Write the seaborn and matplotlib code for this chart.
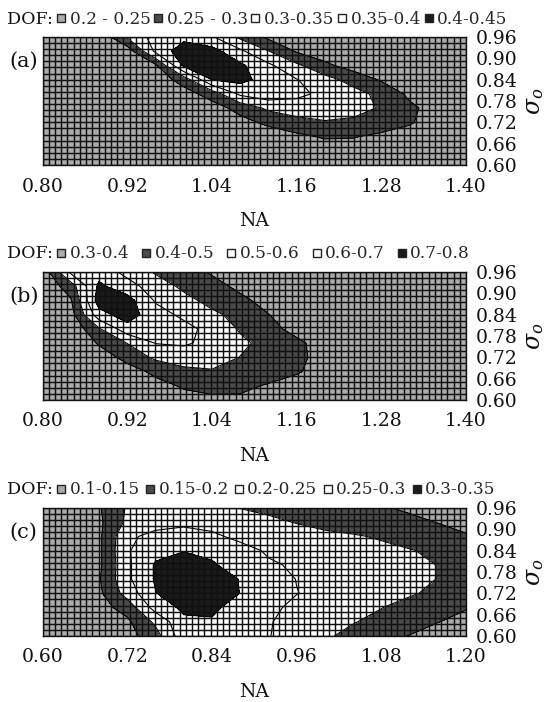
import numpy as np
import matplotlib
matplotlib.use("Agg")
import matplotlib.pyplot as plt
import seaborn as sns
from matplotlib.lines import Line2D

sns.set_theme(style="white")
plt.rcParams["font.family"] = ["DejaVu Serif"]
plt.rcParams["mathtext.fontset"] = "dejavuserif"

# ---------------- data ----------------
sigma_o = [0.60, 0.64, 0.68, 0.72, 0.76, 0.80, 0.84, 0.88, 0.92, 0.96]
na_ab = [0.80, 0.84, 0.88, 0.92, 0.96, 1.00, 1.04, 1.08,
         1.12, 1.16, 1.20, 1.24, 1.28, 1.32, 1.36, 1.40]
na_c = [0.60, 0.64, 0.68, 0.72, 0.76, 0.80, 0.84, 0.88,
        0.92, 0.96, 1.00, 1.04, 1.08, 1.12, 1.16, 1.20]

# rows follow sigma_o (0.60 -> 0.96), columns follow NA
dof_a = [
    [0.20, 0.20, 0.20, 0.20, 0.20, 0.20, 0.20, 0.20, 0.205, 0.21, 0.215, 0.215, 0.21, 0.205, 0.20, 0.20],
    [0.20, 0.20, 0.20, 0.20, 0.20, 0.20, 0.20, 0.20, 0.21, 0.22, 0.225, 0.225, 0.22, 0.21, 0.205, 0.20],
    [0.20, 0.20, 0.20, 0.20, 0.20, 0.20, 0.20, 0.21, 0.225, 0.24, 0.255, 0.253, 0.24, 0.23, 0.215, 0.205],
    [0.20, 0.20, 0.20, 0.20, 0.20, 0.20, 0.21, 0.235, 0.26, 0.28, 0.295, 0.29, 0.275, 0.255, 0.225, 0.21],
    [0.20, 0.20, 0.20, 0.20, 0.20, 0.20, 0.23, 0.265, 0.31, 0.33, 0.335, 0.32, 0.295, 0.26, 0.23, 0.21],
    [0.20, 0.20, 0.20, 0.20, 0.20, 0.23, 0.27, 0.36, 0.38, 0.36, 0.34, 0.32, 0.285, 0.24, 0.22, 0.20],
    [0.20, 0.20, 0.20, 0.20, 0.22, 0.27, 0.40, 0.415, 0.38, 0.352, 0.32, 0.28, 0.245, 0.225, 0.21, 0.20],
    [0.20, 0.20, 0.20, 0.21, 0.24, 0.41, 0.44, 0.41, 0.36, 0.31, 0.26, 0.23, 0.215, 0.205, 0.20, 0.20],
    [0.20, 0.20, 0.205, 0.22, 0.36, 0.43, 0.42, 0.36, 0.302, 0.245, 0.225, 0.21, 0.20, 0.20, 0.20, 0.20],
    [0.20, 0.20, 0.21, 0.305, 0.37, 0.385, 0.355, 0.29, 0.24, 0.22, 0.21, 0.20, 0.20, 0.20, 0.20, 0.20],
]
dof_b = [
    [0.30, 0.30, 0.30, 0.31, 0.34, 0.37, 0.38, 0.38, 0.36, 0.34, 0.33, 0.31, 0.30, 0.30, 0.30, 0.30],
    [0.30, 0.30, 0.30, 0.32, 0.37, 0.41, 0.43, 0.425, 0.39, 0.36, 0.34, 0.32, 0.31, 0.30, 0.30, 0.30],
    [0.30, 0.30, 0.31, 0.36, 0.42, 0.47, 0.49, 0.48, 0.45, 0.41, 0.36, 0.33, 0.31, 0.30, 0.30, 0.30],
    [0.30, 0.30, 0.35, 0.43, 0.52, 0.56, 0.55, 0.498, 0.46, 0.42, 0.37, 0.34, 0.32, 0.31, 0.30, 0.30],
    [0.30, 0.31, 0.41, 0.502, 0.603, 0.61, 0.58, 0.52, 0.47, 0.42, 0.36, 0.33, 0.31, 0.30, 0.30, 0.30],
    [0.30, 0.32, 0.49, 0.66, 0.68, 0.63, 0.57, 0.49, 0.43, 0.37, 0.34, 0.32, 0.31, 0.30, 0.30, 0.30],
    [0.30, 0.36, 0.66, 0.75, 0.64, 0.58, 0.52, 0.47, 0.402, 0.36, 0.33, 0.31, 0.30, 0.30, 0.30, 0.30],
    [0.31, 0.39, 0.75, 0.74, 0.59, 0.53, 0.47, 0.42, 0.37, 0.34, 0.32, 0.31, 0.31, 0.30, 0.30, 0.30],
    [0.32, 0.45, 0.72, 0.64, 0.55, 0.48, 0.43, 0.38, 0.35, 0.33, 0.32, 0.31, 0.31, 0.31, 0.30, 0.30],
    [0.33, 0.62, 0.66, 0.57, 0.49, 0.44, 0.39, 0.36, 0.34, 0.33, 0.32, 0.32, 0.31, 0.31, 0.31, 0.31],
]
dof_c = [
    [0.11, 0.115, 0.12, 0.13, 0.18, 0.28, 0.285, 0.265, 0.252, 0.23, 0.205, 0.19, 0.165, 0.148, 0.135, 0.13],
    [0.11, 0.115, 0.125, 0.14, 0.21, 0.29, 0.295, 0.27, 0.253, 0.235, 0.218, 0.202, 0.19, 0.175, 0.151, 0.14],
    [0.11, 0.12, 0.13, 0.17, 0.27, 0.31, 0.31, 0.28, 0.26, 0.24, 0.225, 0.212, 0.201, 0.185, 0.17, 0.152],
    [0.11, 0.125, 0.14, 0.22, 0.298, 0.33, 0.33, 0.299, 0.272, 0.251, 0.24, 0.232, 0.22, 0.205, 0.19, 0.18],
    [0.11, 0.125, 0.145, 0.24, 0.305, 0.33, 0.325, 0.298, 0.272, 0.249, 0.242, 0.235, 0.225, 0.213, 0.199, 0.185],
    [0.11, 0.125, 0.14, 0.24, 0.305, 0.325, 0.305, 0.28, 0.255, 0.245, 0.238, 0.23, 0.222, 0.212, 0.199, 0.18],
    [0.11, 0.125, 0.14, 0.245, 0.285, 0.298, 0.29, 0.265, 0.245, 0.235, 0.228, 0.22, 0.212, 0.203, 0.19, 0.175],
    [0.11, 0.125, 0.14, 0.24, 0.265, 0.27, 0.258, 0.24, 0.23, 0.22, 0.212, 0.205, 0.195, 0.18, 0.165, 0.152],
    [0.11, 0.12, 0.14, 0.21, 0.23, 0.24, 0.235, 0.225, 0.21, 0.198, 0.185, 0.175, 0.165, 0.158, 0.149, 0.143],
    [0.11, 0.12, 0.145, 0.205, 0.22, 0.225, 0.215, 0.199, 0.19, 0.18, 0.17, 0.16, 0.153, 0.145, 0.14, 0.135],
]

levels_a = [0.20, 0.25, 0.30, 0.35, 0.40, 0.45]
levels_b = [0.30, 0.40, 0.50, 0.60, 0.70, 0.80]
levels_c = [0.10, 0.15, 0.20, 0.25, 0.30, 0.35]
labels_a = ["0.2 - 0.25", "0.25 - 0.3", "0.3-0.35", "0.35-0.4", "0.4-0.45"]
labels_b = ["0.3-0.4", "0.4-0.5", "0.5-0.6", "0.6-0.7", "0.7-0.8"]
labels_c = ["0.1-0.15", "0.15-0.2", "0.2-0.25", "0.25-0.3", "0.3-0.35"]
xticks_ab = [0.80, 0.92, 1.04, 1.16, 1.28, 1.40]
xticks_c = [0.60, 0.72, 0.84, 0.96, 1.08, 1.20]
yticks = [0.60, 0.66, 0.72, 0.78, 0.84, 0.90, 0.96]
tags = ["(a)", "(b)", "(c)"]

# ---------------- style ----------------
fills = ["#ababab", "#4a4a4a", "#ffffff", "#ffffff", "#1a1a1a"]
W, H = 548, 702
boxes = [(42.5, 37, 466, 165), (42.5, 272, 466, 400), (42.5, 508, 466, 636)]
colspacing = [0.15, 0.7, 0.3]

fig = plt.figure(figsize=(W / 100, H / 100), dpi=100)


def draw(box, na, dof, levels, labels, xticks, tag, colsp):
    l, t, r, b = box
    ax = fig.add_axes([l / W, (H - b) / H, (r - l) / W, (b - t) / H])
    Z = np.array(dof)
    X, Y = np.meshgrid(na, sigma_o)
    fill_levels = [-1.0] + levels[1:-1] + [2.0]
    ax.contourf(X, Y, Z, levels=fill_levels, colors=fills, zorder=1)
    ax.contour(X, Y, Z, levels=levels[1:-1], colors="black",
               linewidths=0.8, zorder=2)
    x0, x1 = na[0], na[-1]
    ax.vlines(np.linspace(x0, x1, 69), sigma_o[0], sigma_o[-1],
              colors="#101010", linewidth=1.05, zorder=3)
    ax.hlines(np.linspace(sigma_o[0], sigma_o[-1], 22), x0, x1,
              colors="#101010", linewidth=1.05, zorder=3)
    ax.set_xlim(x0, x1)
    ax.set_ylim(sigma_o[0], sigma_o[-1])
    ax.set_xticks(xticks)
    ax.set_xticklabels([f"{v:.2f}" for v in xticks])
    ax.set_yticks(yticks)
    ax.set_yticklabels([f"{v:.2f}" for v in yticks])
    ax.yaxis.tick_right()
    ax.yaxis.set_label_position("right")
    ax.tick_params(axis="both", length=0, labelsize=13.5, colors="#111")
    ax.tick_params(axis="x", pad=9)
    ax.tick_params(axis="y", pad=7)
    ax.set_xlabel("NA", fontsize=13.5, labelpad=12, color="#111")
    ax.set_ylabel(r"$\sigma_o$", fontsize=17, rotation=90, labelpad=4,
                  color="#111")
    for s in ax.spines.values():
        s.set_visible(True)
        s.set_color("#111")
        s.set_linewidth(1.0)
        s.set_zorder(4)
    hpx = b - t
    wpx = r - l
    ax.text((9 - l) / wpx, 1 - 24 / hpx, tag, transform=ax.transAxes,
            fontsize=15, ha="left", va="center", color="#111")
    ax.text((7 - l) / wpx, 1 + 18 / hpx, "DOF:", transform=ax.transAxes,
            fontsize=12.6, ha="left", va="center", color="#111")
    handles = [Line2D([], [], linestyle="None", marker="s", markersize=6,
                      markerfacecolor=c, markeredgecolor="#222",
                      markeredgewidth=1.0) for c in fills]
    ax.legend(handles, labels, ncol=5, loc="center left",
              bbox_to_anchor=((56 - l) / wpx, 1 + 18 / hpx),
              frameon=False, fontsize=12.2, handlelength=0.6,
              handletextpad=0.2, columnspacing=colsp, borderpad=0,
              borderaxespad=0)
    return ax


draw(boxes[0], na_ab, dof_a, levels_a, labels_a, xticks_ab, tags[0], colspacing[0])
draw(boxes[1], na_ab, dof_b, levels_b, labels_b, xticks_ab, tags[1], colspacing[1])
draw(boxes[2], na_c, dof_c, levels_c, labels_c, xticks_c, tags[2], colspacing[2])

fig.savefig("out.png", dpi=100)
